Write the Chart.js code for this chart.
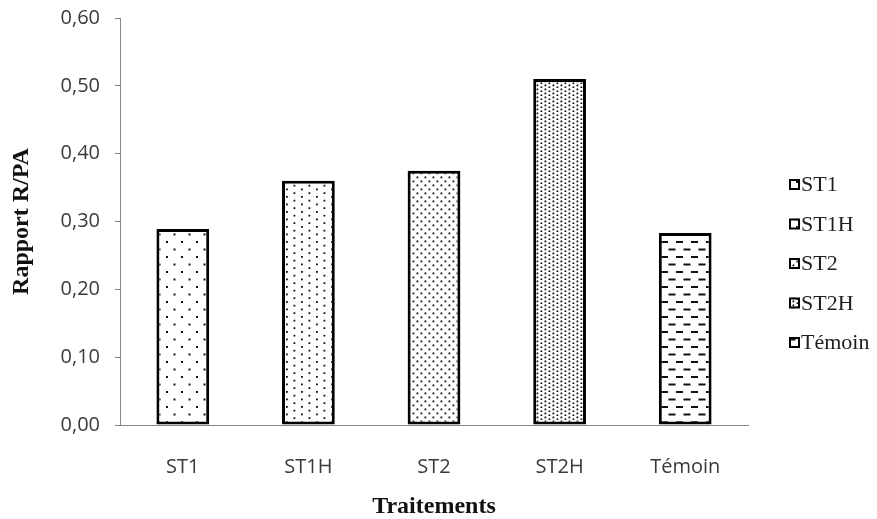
<!DOCTYPE html>
<html>
<head>
<meta charset="utf-8">
<script src="https://cdn.jsdelivr.net/npm/chart.js@4.4.1/dist/chart.umd.min.js"></script>
<style>
  html, body { margin: 0; padding: 0; background: #ffffff; }
  #wrap { width: 877px; height: 519px; }
</style>
</head>
<body>
<div id="wrap"><canvas id="chart" width="877" height="519"></canvas></div>
<script>
// Rapport R/PA par traitement
const categories = ['ST1', 'ST1H', 'ST2', 'ST2H', 'Témoin'];
const ratioValues = [0.289, 0.360, 0.375, 0.510, 0.283];
const yTickLabels = ['0,00', '0,10', '0,20', '0,30', '0,40', '0,50', '0,60'];
const yAxisTitle = 'Rapport R/PA';
const xAxisTitle = 'Traitements';

// Hatch fills in the style of office pattern fills
function makePattern(w, h, paint) {
  const c = document.createElement('canvas');
  c.width = w; c.height = h;
  const g = c.getContext('2d');
  g.fillStyle = '#ffffff';
  g.fillRect(0, 0, w, h);
  g.fillStyle = '#111111';
  paint(g);
  return document.createElement('canvas').getContext('2d').createPattern(c, 'repeat');
}
function dots(g, pts, s) {
  pts.forEach(([x, y]) => g.fillRect(x, y, s, s));
}
const fills = [
  makePattern(15, 15, g => dots(g, [[1, 1], [8.5, 8.5]], 2)),
  makePattern(15, 15, g => dots(g, [[1, 1], [8.5, 4.75], [1, 8.5], [8.5, 12.25]], 1.8)),
  makePattern(8, 8, g => dots(g, [[0.5, 0.5], [4.5, 4.5]], 1.8)),
  makePattern(8, 4, g => dots(g, [[0.5, 0.5], [4.5, 2.5]], 1.8)),
  makePattern(15, 15, g => { g.fillRect(1, 1, 7, 2); g.fillRect(8.5, 8.5, 7, 2); g.fillRect(-6.5, 8.5, 7, 2); })
];

// Legend drawn in the right margin, one entry per treatment
const sideLegend = {
  id: 'sideLegend',
  afterDraw(chart) {
    const { ctx, chartArea } = chart;
    const gap = 39.5;
    const x0 = chartArea.right + 41;
    const yStart = chart.height / 2 + 4 - gap * (categories.length - 1) / 2;
    ctx.save();
    categories.forEach((label, i) => {
      const yc = yStart + i * gap;
      ctx.fillStyle = fills[i];
      ctx.fillRect(x0, yc - 5.5, 11, 11);
      ctx.lineWidth = 2;
      ctx.strokeStyle = '#000000';
      ctx.strokeRect(x0 + 1, yc - 4.5, 9, 9);
      ctx.fillStyle = '#1f1f1f';
      ctx.font = '22px "Liberation Serif", "Times New Roman", serif';
      ctx.textBaseline = 'middle';
      ctx.textAlign = 'left';
      ctx.fillText(label, x0 + 12, yc + 1);
    });
    ctx.restore();
  }
};

const tickFont = { family: '"Open Sans", sans-serif', size: 20 };
const titleFont = { family: '"Liberation Serif", "Times New Roman", serif', size: 24, weight: 'bold', lineHeight: 1 };

new Chart(document.getElementById('chart'), {
  type: 'bar',
  data: {
    labels: categories,
    datasets: [{
      data: ratioValues,
      backgroundColor: fills,
      borderColor: '#000000',
      borderWidth: 3,
      borderSkipped: false,
      categoryPercentage: 1,
      barPercentage: 0.42
    }]
  },
  options: {
    responsive: false,
    animation: false,
    layout: { padding: { top: 18, right: 129, bottom: 0, left: 0 } },
    plugins: {
      legend: { display: false },
      tooltip: { enabled: false }
    },
    scales: {
      x: {
        grid: { display: false },
        border: { display: true, color: '#868686', width: 1 },
        ticks: { font: tickFont, color: '#3a3a3a', padding: 22, maxRotation: 0 },
        title: { display: true, text: xAxisTitle, font: titleFont, color: '#111111', padding: { top: 0, bottom: 0 } },
        afterFit(scale) { scale.height = 94; }
      },
      y: {
        min: 0,
        max: 0.6,
        ticks: {
          stepSize: 0.1,
          font: tickFont,
          color: '#3a3a3a',
          padding: 15,
          callback: (value, index) => yTickLabels[index]
        },
        grid: { display: true, drawOnChartArea: false, drawTicks: true, tickLength: 5, color: '#868686' },
        border: { display: true, color: '#868686', width: 1 },
        title: { display: true, text: yAxisTitle, font: titleFont, color: '#111111', padding: { top: 10, bottom: 0 } },
        afterFit(scale) { scale.width = 120; scale.paddingTop = 0; }
      }
    }
  },
  plugins: [sideLegend]
});
</script>
</body>
</html>
